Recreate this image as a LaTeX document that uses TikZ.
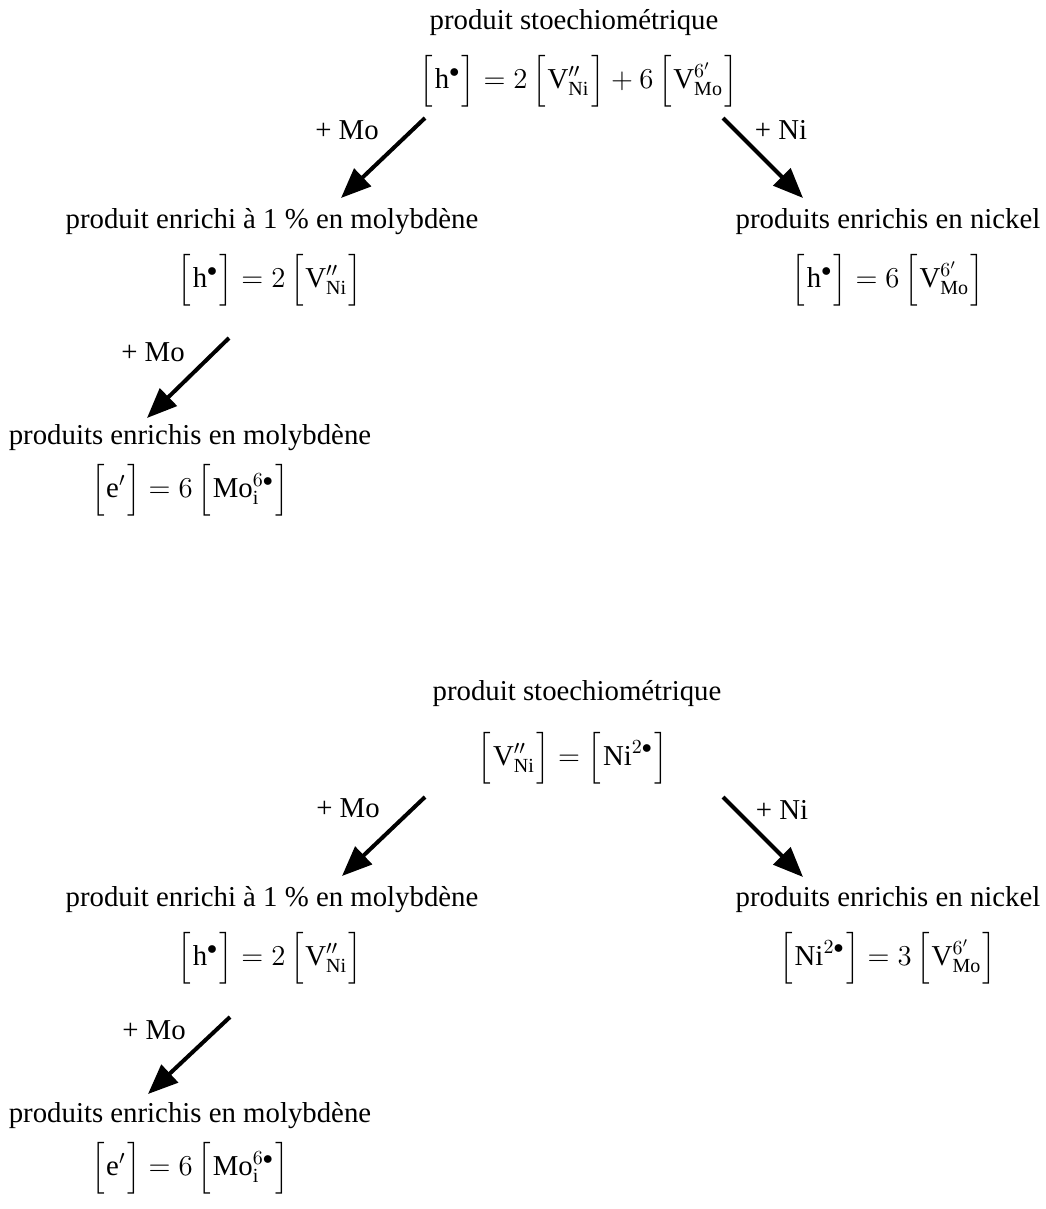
\documentclass[tikz,border=0pt]{standalone}
\usepackage{amsmath}
\usepackage{fontspec}
\setmainfont{Liberation Serif}
\setmathrm{Liberation Serif}
\usetikzlibrary{arrows.meta,positioning}
\newcommand{\conc}[1]{\left[\vrule height 16pt depth 7pt width 0pt\mkern1mu#1\mkern1mu\right]}
\newcommand{\hh}{\mathrm{h}^{\bullet}}
\newcommand{\ee}{\mathrm{e}^{\prime}}
\newcommand{\VNi}{\mathrm{V}^{\prime\prime}_{\mathrm{Ni}}}
\newcommand{\VMo}{\mathrm{V}^{6'}_{\mathrm{Mo}}}
\newcommand{\NiNi}{\mathrm{Ni}^{2\bullet}}
\newcommand{\Moi}{\mathrm{Mo}^{6\bullet}_{\mathrm{i}}}

\begin{document}
\begin{tikzpicture}[
	x=0.5pt, y=-0.5pt,
	lbl/.style={font=\fontsize{14.4}{17}\selectfont, inner sep=0pt},
	arr/.style={-{Triangle[length=15pt,width=12pt]}, line width=2pt}
	]
	\useasboundingbox (0,0) rectangle (1045,1209);
	% upper scheme
	\node[lbl] (st) at (574,23) {produit stoechiométrique};
	\node[lbl] (steq) at (579,81) {$\conc{\hh}=2\conc{\VNi}+6\conc{\VMo}$};
	\node[lbl] (en) at (272,222) {produit enrichi à 1 \% en molybdène};
	\node[lbl] (eneq) at (270,280) {$\conc{\hh}=2\conc{\VNi}$};
	\node[lbl] (ni) at (888,222) {produits enrichis en nickel};
	\node[lbl] (nieq) at (888,280) {$\conc{\hh}=6\conc{\VMo}$};
	\node[lbl] (mo) at (190,438) {produits enrichis en molybdène};
	\node[lbl] (moeq) at (190,490) {$\conc{\ee}=6\conc{\Moi}$};
	\node[lbl] (amo) at (347,130) {+ Mo};
	\node[lbl] (ani) at (781,130) {+ Ni};
	\node[lbl] (amob) at (153,352) {+ Mo};
	\coordinate (s1) at (425,118);  \coordinate (e1) at (341,198);
	\coordinate (s2) at (723,118);  \coordinate (e2) at (803,198);
	\coordinate (s3) at (229,338);  \coordinate (e3) at (147,418);
	\draw[arr] (s1) -- (e1);
	\draw[arr] (s2) -- (e2);
	\draw[arr] (s3) -- (e3);
	% lower scheme
	\node[lbl] (stb) at (577,694) {produit stoechiométrique};
	\node[lbl] (stbeq) at (573,758) {$\conc{\VNi}=\conc{\NiNi}$};
	\node[lbl] (enb) at (272,900) {produit enrichi à 1 \% en molybdène};
	\node[lbl] (enbeq) at (270,958) {$\conc{\hh}=2\conc{\VNi}$};
	\node[lbl] (nib) at (888,900) {produits enrichis en nickel};
	\node[lbl] (nibeq) at (888,958) {$\conc{\NiNi}=3\conc{\VMo}$};
	\node[lbl] (mob) at (190,1116) {produits enrichis en molybdène};
	\node[lbl] (mobeq) at (190,1168) {$\conc{\ee}=6\conc{\Moi}$};
	\node[lbl] (bmo) at (348,808) {+ Mo};
	\node[lbl] (bni) at (782,810) {+ Ni};
	\node[lbl] (bmob) at (154,1030) {+ Mo};
	\coordinate (s4) at (425,797);  \coordinate (e4) at (342,876);
	\coordinate (s5) at (723,797);  \coordinate (e5) at (803,877);
	\coordinate (s6) at (230,1017); \coordinate (e6) at (148,1094);
	\draw[arr] (s4) -- (e4);
	\draw[arr] (s5) -- (e5);
	\draw[arr] (s6) -- (e6);
\end{tikzpicture}
\end{document}
